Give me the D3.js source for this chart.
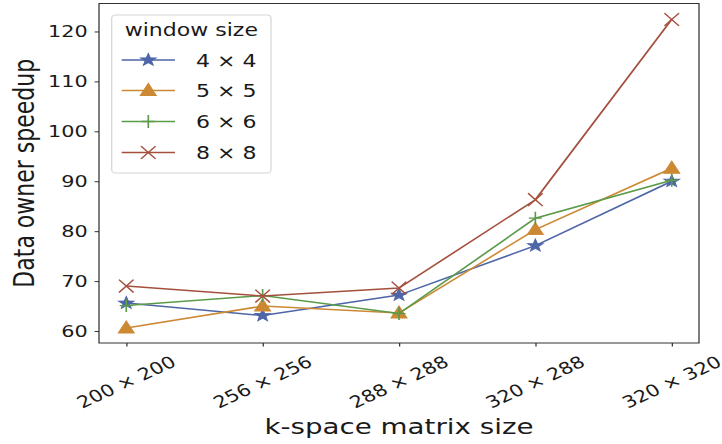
<!DOCTYPE html>
<html>
<head>
<meta charset="utf-8">
<script src="https://cdn.jsdelivr.net/npm/d3@7"></script>
<style>
  html, body { margin: 0; padding: 0; background: #fff; }
  text { font-family: "DejaVu Sans", sans-serif; fill: #1a1a1a; }
</style>
</head>
<body>
<div id="container"></div>
<script>
//DATA
const sizes = ["200 \u00d7 200", "256 \u00d7 256", "288 \u00d7 288", "320 \u00d7 288", "320 \u00d7 320"];
const yTicks = [60, 70, 80, 90, 100, 110, 120];
const seriesNames = ["4 \u00d7 4", "5 \u00d7 5", "6 \u00d7 6", "8 \u00d7 8"];
const speedup4 = [65.6, 63.1, 67.2, 77.1, 90.0];
const speedup5 = [60.6, 65.0, 63.6, 80.3, 92.6];
const speedup6 = [65.1, 67.1, 63.5, 82.6, 90.2];
const speedup8 = [69.0, 67.0, 68.6, 86.3, 122.4];

const colors = ["#4e66a8", "#cc8933", "#5a9a49", "#a5503d"];
const markers = ["star", "triangle", "plus", "x"];
const allSeries = [speedup4, speedup5, speedup6, speedup8];

//SETUP
// the reference image is stretched horizontally, so draw in a narrower
// coordinate system and let the viewBox stretch it
const stretch = 1.26;
const outW = 722, outH = 444;
const W = outW / stretch;
const plotLeft = 99 / stretch, plotRight = 699 / stretch, plotTop = 3.5, plotBottom = 343;

const svg = d3.select("#container").append("svg")
    .attr("width", outW)
    .attr("height", outH)
    .attr("viewBox", "0 0 " + W + " " + outH)
    .attr("preserveAspectRatio", "none");

//SCALES
const xScale = d3.scalePoint().domain(sizes).range([plotLeft, plotRight]).padding(0.2);
const yScale = d3.scaleLinear().domain([57.6, 125.6]).range([plotBottom, plotTop]);

//MARKER paths
function markerPath(kind) {
  if (kind === "star") {
    let pts = [];
    for (let i = 0; i < 10; i++) {
      const r = i % 2 === 0 ? 6.6 : 2.7;
      const a = -Math.PI / 2 + i * Math.PI / 5;
      pts.push([r * Math.cos(a), r * Math.sin(a)]);
    }
    return "M" + pts.map(p => p.join(",")).join("L") + "Z";
  }
  if (kind === "triangle") return "M0,-7.2L6.4,5L-6.4,5Z";
  if (kind === "plus") return "M-5.2,0H5.2M0,-6.5V6.5";
  return "M-5.8,-6.4L5.8,6.4M-5.8,6.4L5.8,-6.4";
}

function drawMarker(g, kind, color) {
  const filled = kind === "star" || kind === "triangle";
  g.append("path")
    .attr("d", markerPath(kind))
    .attr("fill", filled ? color : "none")
    .attr("stroke", color)
    .attr("stroke-width", filled ? 0.8 : 1.3)
    .attr("stroke-linejoin", "miter");
}

//AXES
const xAxisGen = d3.axisBottom(xScale).tickSize(3.5).tickFormat("");
const yAxisGen = d3.axisLeft(yScale).tickValues(yTicks).tickSize(3.5).tickPadding(5.5);

const xAxis = svg.append("g")
    .attr("transform", "translate(0," + plotBottom + ")")
    .call(xAxisGen);
xAxis.select(".domain").remove();
xAxis.selectAll(".tick line").attr("stroke", "#333").attr("stroke-width", 1);

const yAxis = svg.append("g")
    .attr("transform", "translate(" + plotLeft + ",0)")
    .call(yAxisGen);
yAxis.select(".domain").remove();
yAxis.selectAll(".tick line").attr("stroke", "#333").attr("stroke-width", 1);
yAxis.selectAll(".tick text")
    .attr("font-size", 16.5)
    .attr("font-family", "DejaVu Sans")
    .attr("fill", "#1a1a1a");

// rotated x tick labels
svg.append("g")
  .selectAll("text")
  .data(sizes)
  .enter().append("text")
    .attr("transform", d => "translate(" + xScale(d) + ",382) rotate(-30)")
    .attr("text-anchor", "middle")
    .attr("dominant-baseline", "central")
    .attr("font-size", 16.5)
    .text(d => d);

// spines
svg.append("rect")
    .attr("x", plotLeft).attr("y", plotTop)
    .attr("width", plotRight - plotLeft).attr("height", plotBottom - plotTop)
    .attr("fill", "none")
    .attr("stroke", "#333")
    .attr("stroke-width", 1);

// axis titles
svg.append("text")
    .attr("x", (plotLeft + plotRight) / 2)
    .attr("y", 434)
    .attr("text-anchor", "middle")
    .attr("font-size", 22)
    .text("k-space matrix size");

svg.append("text")
    .attr("transform", "translate(" + (24.5 / stretch) + "," + ((plotTop + plotBottom) / 2) + ") rotate(-90)")
    .attr("text-anchor", "middle")
    .attr("dominant-baseline", "central")
    .attr("font-size", 22)
    .text("Data owner speedup");

//LINES
const line = d3.line()
    .x((d, i) => xScale(sizes[i]))
    .y(d => yScale(d));

allSeries.forEach(function(vals, s) {
  const g = svg.append("g");
  g.append("path")
    .datum(vals)
    .attr("d", line)
    .attr("fill", "none")
    .attr("stroke", colors[s])
    .attr("stroke-width", 1.5);
  vals.forEach(function(v, i) {
    const m = g.append("g")
      .attr("transform", "translate(" + xScale(sizes[i]) + "," + yScale(v) + ")");
    drawMarker(m, markers[s], colors[s]);
  });
});

//LEGEND
const lx0 = 111.7 / stretch, lx1 = 271 / stretch;
const legend = svg.append("g");
legend.append("rect")
    .attr("x", lx0).attr("y", 15)
    .attr("width", lx1 - lx0).attr("height", 158)
    .attr("rx", 3)
    .attr("fill", "#fff").attr("fill-opacity", 0.85)
    .attr("stroke", "#d6d6d6").attr("stroke-width", 1);
legend.append("text")
    .attr("x", (lx0 + lx1) / 2)
    .attr("y", 36.5)
    .attr("text-anchor", "middle")
    .attr("font-size", 17.5)
    .text("window size");

const rowY = [60, 90.5, 121.5, 152.5];
seriesNames.forEach(function(name, s) {
  const row = legend.append("g").attr("transform", "translate(0," + rowY[s] + ")");
  row.append("line")
    .attr("x1", 121.7 / stretch).attr("x2", 175 / stretch)
    .attr("y1", 0).attr("y2", 0)
    .attr("stroke", colors[s]).attr("stroke-width", 1.5);
  const m = row.append("g").attr("transform", "translate(" + (148.3 / stretch) + ",0)");
  drawMarker(m, markers[s], colors[s]);
  row.append("text")
    .attr("x", 196 / stretch)
    .attr("y", 6.5)
    .attr("font-size", 17.5)
    .text(name);
});
</script>
</body>
</html>
